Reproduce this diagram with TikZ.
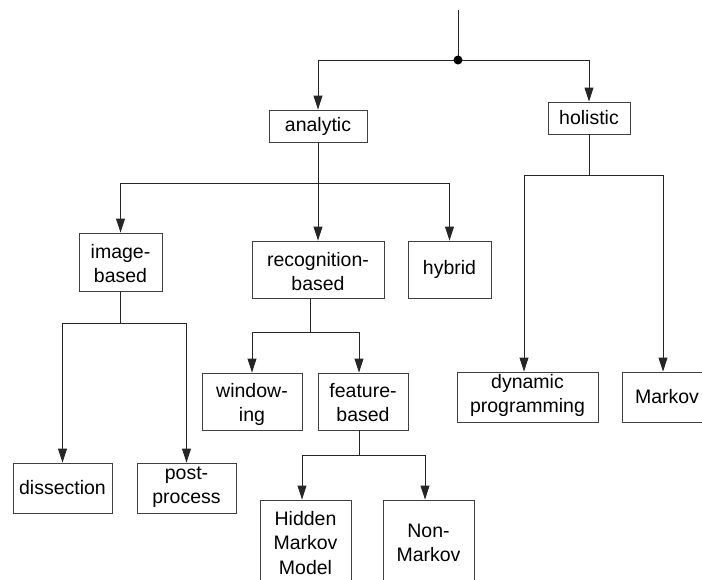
\documentclass[tikz,border=0pt]{standalone}
\usepackage{fontspec}
\setmainfont{Liberation Sans}
\usetikzlibrary{arrows.meta}
% stacked label lines, lowered by #1 without changing the box extent
\newcommand\stacklines[2][3.5pt]{\raisebox{-#1}[\height][\depth]{%
  \begin{tabular}{@{}c@{}}#2\end{tabular}}}
\begin{document}
\begin{tikzpicture}[x=1pt,y=-1pt,
  line width=0.9pt,
  box/.style={draw=black!75, line width=0.9pt, rectangle, inner sep=0pt,
    font=\fontsize{19.5}{24.2}\selectfont},
  arr/.style={-{Triangle[length=14pt,width=9pt]}},
  link/.style={draw=black!85}]
\clip (0,0) rectangle (702,579);
\fill[white] (0,0) rectangle (702,579);

% category boxes
\node[box, minimum width=98pt, minimum height=32pt] (analytic) at (318,126) {analytic};
\node[box, minimum width=82pt, minimum height=32pt] (holistic) at (589,118) {holistic};
\node[box, minimum width=83pt, minimum height=58pt] (imgbased) at (120.5,262) {\stacklines{image-\\based}};
\node[box, minimum width=132pt, minimum height=57pt] (recog) at (318,269.5) {\stacklines[4.5pt]{recognition-\\based}};
\node[box, minimum width=83pt, minimum height=57pt] (hybrid) at (449.5,269.5) {hybrid};
\node[box, minimum width=99pt, minimum height=50pt] (dissect) at (62.5,488) {dissection};
\node[box, minimum width=99pt, minimum height=50pt] (postproc) at (186.5,488) {\stacklines[-1pt]{post-\\process}};
\node[box, minimum width=100pt, minimum height=57pt] (window) at (252,401.5) {\stacklines{window-\\ing}};
\node[box, minimum width=90pt, minimum height=57pt] (feature) at (363,401.5) {\stacklines{feature-\\based}};
\node[box, minimum width=141pt, minimum height=50pt] (dynprog) at (527.5,397) {\stacklines[-1pt]{dynamic\\programming}};
\node[box, minimum width=90pt, minimum height=50pt] (markov) at (667,397) {Markov};
\node[box, minimum width=91pt, minimum height=86pt] (hmm) at (305.5,543) {\stacklines[2pt]{Hidden\\Markov\\Model}};
\node[box, minimum width=91pt, minimum height=86pt] (nonmarkov) at (428.5,543) {\stacklines[2pt]{Non-\\Markov}};

% root fork
\coordinate (top) at (458,10);
\coordinate (fork) at (458,60);
\draw[link] (top) -- (fork);
\draw[link,arr] (fork) -| (analytic.north);
\draw[link,arr] (fork) -| (holistic.north);
\fill[black] (fork) circle (4.5pt);

% analytic branch
\coordinate (ja) at (318,183);
\draw[link,arr] (analytic.south) -- (recog.north);
\draw[link,arr] (ja) -| (imgbased.north);
\draw[link,arr] (ja) -| (hybrid.north);

% image-based branch
\coordinate (jb) at (120.5,323);
\draw[link] (imgbased.south) -- (jb);
\draw[link,arr] (jb) -| (dissect.north);
\draw[link,arr] (jb) -| (postproc.north);

% recognition-based branch
\coordinate (jc0) at (310,298);
\coordinate (jc) at (310,332);
\draw[link] (jc0) -- (jc);
\draw[link,arr] (jc) -| (window.north);
\draw[link,arr] (jc) -| ([xshift=-4pt]feature.north);

% feature-based branch
\coordinate (jd0) at (359,430);
\coordinate (jd) at (359,455);
\draw[link] (jd0) -- (jd);
\draw[link,arr] (jd) -| ([xshift=-3.5pt]hmm.north);
\draw[link,arr] (jd) -| ([xshift=-3.5pt]nonmarkov.north);

% holistic branch
\coordinate (je) at (589,175);
\draw[link] (holistic.south) -- (je);
\draw[link,arr] (je) -| ([xshift=-3.5pt]dynprog.north);
\draw[link,arr] (je) -| ([xshift=-4pt]markov.north);
\end{tikzpicture}
\end{document}
